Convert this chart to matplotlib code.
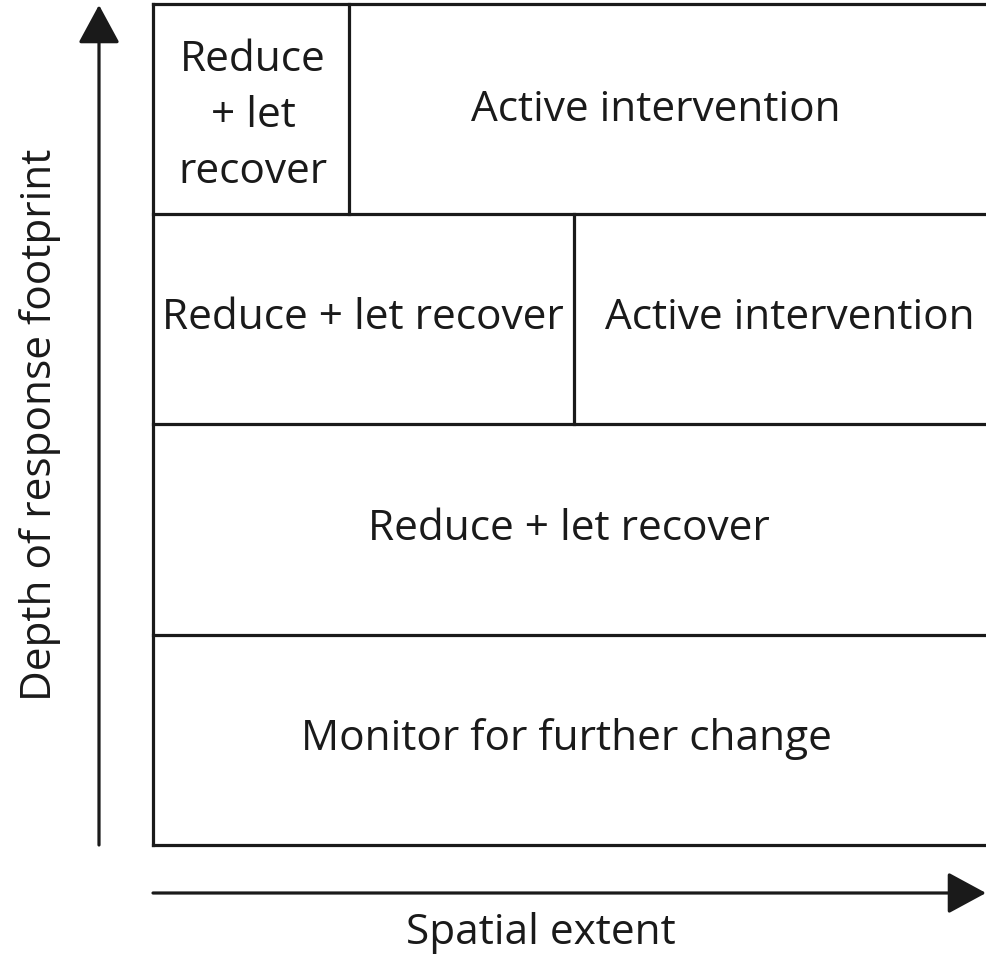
import matplotlib.pyplot as plt
from matplotlib.patches import FancyArrowPatch

# layout of the decision grid (pixel units of the original figure)
rowEdges = [4, 214, 424, 635, 845]
boxLeft, boxRight = 153, 990
dividers = [(349, 0), (574, 1)]  # (x, row index)

cellLabels = [
    ('Reduce\n+ let\nrecover', 253, 116),
    ('Active intervention', 656, 110),
    ('Reduce + let recover', 363, 318),
    ('Active intervention', 790, 318),
    ('Reduce + let recover', 569, 529),
    ('Monitor for further change', 566, 739),
]
xLabel = 'Spatial extent'
yLabel = 'Depth of response footprint'

plt.rcParams['font.family'] = ['Open Sans', 'DejaVu Sans']

fig = plt.figure(figsize=(9.86, 9.58), dpi=100)
ax = fig.add_axes([0, 0, 1, 1])
ax.set_xlim(0, 986)
ax.set_ylim(958, 0)
ax.axis('off')

lw = 2.3
col = '#1a1a1a'
fs = 30.5

for y in rowEdges:
    ax.plot([boxLeft, boxRight], [y, y], color=col, lw=lw, solid_capstyle='projecting')
ax.plot([boxLeft, boxLeft], [rowEdges[0], rowEdges[-1]], color=col, lw=lw, solid_capstyle='projecting')
for x, r in dividers:
    ax.plot([x, x], [rowEdges[r], rowEdges[r + 1]], color=col, lw=lw)

for text, x, y in cellLabels:
    ax.text(x, y, text, ha='center', va='center', fontsize=fs, color=col, linespacing=1.45)

arrowStyle = '-|>,head_length=24,head_width=13'
ax.add_patch(FancyArrowPatch((99, 845), (99, 5), arrowstyle=arrowStyle, mutation_scale=1,
                             color=col, lw=lw, shrinkA=0, shrinkB=0))
ax.add_patch(FancyArrowPatch((153, 893), (986, 893), arrowstyle=arrowStyle, mutation_scale=1,
                             color=col, lw=lw, shrinkA=0, shrinkB=0))

ax.text(541, 933, xLabel, ha='center', va='center', fontsize=fs, color=col)
ax.text(40, 425, yLabel, ha='center', va='center', fontsize=fs, color=col, rotation=90)

fig.savefig('out.png', dpi=100)
